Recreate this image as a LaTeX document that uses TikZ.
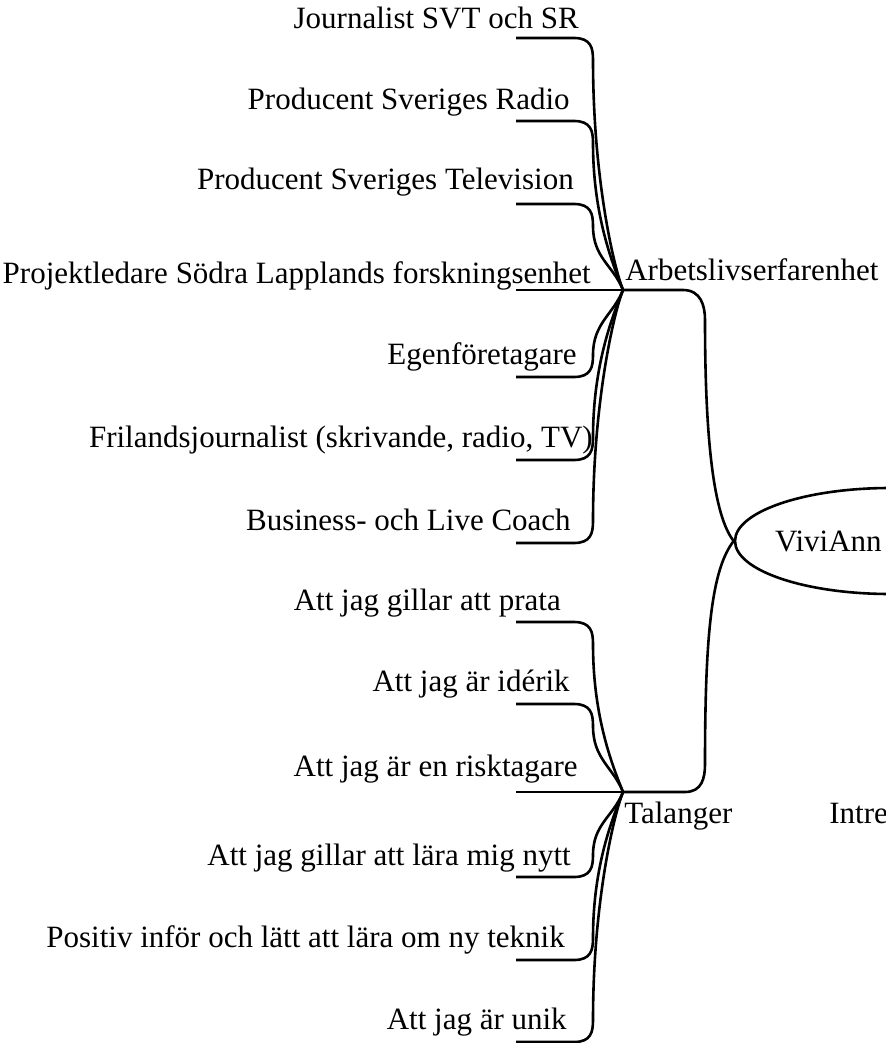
\documentclass[tikz,border=0pt]{standalone}
\usepackage{fontspec}
\setmainfont{Liberation Serif}
\usetikzlibrary{shapes.geometric}

\begin{document}
\begin{tikzpicture}[x=0.5pt, y=-0.5pt, line width=1.3pt, every node/.style={inner sep=0pt, font=\fontsize{15.5}{18}\selectfont}, leaf/.style={anchor=base east}, branch/.style={anchor=base west}]
		\useasboundingbox (0,0) rectangle (886,1043);
		%Mitten
		\node (viviann) [draw, ellipse, minimum width=155pt, minimum height=53pt, label={[anchor=west, xshift=20pt]west:ViviAnn}] at (890,541) {};
		\coordinate (arbets hub) at (623,290);
		\node (arbets) [branch] at (624,280) {Arbetslivserfarenhet};
		\coordinate (talanger hub) at (623,792);
		\node (talanger) [branch] at (623,823) {Talanger};
		\node (intressen) [branch] at (828,823) {Intre};
		\draw (arbets hub) -- ++(60,0) .. controls +(18,0) and +(0,-14) .. ++(22,30) .. controls +(0,120) and +(-20,-25) .. (viviann.west);
		\draw (talanger hub) -- ++(62,0) .. controls +(17,0) and +(0,14) .. ++(20,-28) .. controls +(0,-130) and +(-22,28) .. (viviann.west);
		%Arbetslivserfarenhet
		\node (journalist) [leaf] at (580,29) {Journalist SVT och SR};
		\coordinate (journalist line) at (516,38);
		\draw (journalist line) -- ++(58,0) .. controls +(17,0) and +(0,-12) .. ++(19,22) .. controls +(0,115) and +(-10,-25) .. (arbets hub);
		\node (radio) [leaf] at (571,110) {Producent Sveriges Radio};
		\coordinate (radio line) at (516,121);
		\draw (radio line) -- ++(58,0) .. controls +(17,0) and +(0,-12) .. ++(19,22) .. controls +(0,73) and +(-10,-25) .. (arbets hub);
		\node (television) [leaf] at (575,190) {Producent Sveriges Television};
		\coordinate (television line) at (516,204);
		\draw (television line) -- ++(58,0) .. controls +(17,0) and +(0,-12) .. ++(19,22) .. controls +(0,32) and +(-10,-25) .. (arbets hub);
		\node (projekt) [leaf] at (592,284) {Projektledare Södra Lapplands forskningsenhet};
		\coordinate (projekt line) at (516,290);
		\draw (projekt line) -- (arbets hub);
		\node (egen) [leaf] at (578,364) {Egenföretagare};
		\coordinate (egen line) at (516,377);
		\draw (egen line) -- ++(58,0) .. controls +(17,0) and +(0,12) .. ++(19,-22) .. controls +(0,-32) and +(-10,25) .. (arbets hub);
		\node (frilans) [leaf] at (594,447) {Frilandsjournalist (skrivande, radio, TV)};
		\coordinate (frilans line) at (516,460);
		\draw (frilans line) -- ++(58,0) .. controls +(17,0) and +(0,12) .. ++(19,-22) .. controls +(0,-74) and +(-10,25) .. (arbets hub);
		\node (coach) [leaf] at (572,530) {Business- och Live Coach};
		\coordinate (coach line) at (516,543);
		\draw (coach line) -- ++(58,0) .. controls +(17,0) and +(0,12) .. ++(19,-22) .. controls +(0,-115) and +(-10,25) .. (arbets hub);
		%Talanger
		\node (prata) [leaf] at (562,610) {Att jag gillar att prata};
		\coordinate (prata line) at (516,622);
		\draw (prata line) -- ++(58,0) .. controls +(17,0) and +(0,-12) .. ++(19,22) .. controls +(0,74) and +(-10,-25) .. (talanger hub);
		\node (iderik) [leaf] at (571,691) {Att jag är idérik};
		\coordinate (iderik line) at (516,704);
		\draw (iderik line) -- ++(58,0) .. controls +(17,0) and +(0,-12) .. ++(19,22) .. controls +(0,33) and +(-10,-25) .. (talanger hub);
		\node (risk) [leaf] at (579,776) {Att jag är en risktagare};
		\coordinate (risk line) at (516,792);
		\draw (risk line) -- (talanger hub);
		\node (nytt) [leaf] at (572,865) {Att jag gillar att lära mig nytt};
		\coordinate (nytt line) at (516,877);
		\draw (nytt line) -- ++(58,0) .. controls +(17,0) and +(0,12) .. ++(19,-22) .. controls +(0,-31) and +(-10,25) .. (talanger hub);
		\node (teknik) [leaf] at (566,947) {Positiv inför och lätt att lära om ny teknik};
		\coordinate (teknik line) at (516,960);
		\draw (teknik line) -- ++(58,0) .. controls +(17,0) and +(0,12) .. ++(19,-22) .. controls +(0,-73) and +(-10,25) .. (talanger hub);
		\node (unik) [leaf] at (568,1029) {Att jag är unik};
		\coordinate (unik line) at (516,1042);
		\draw (unik line) -- ++(58,0) .. controls +(17,0) and +(0,12) .. ++(19,-22) .. controls +(0,-114) and +(-10,25) .. (talanger hub);
	\end{tikzpicture}
\end{document}
